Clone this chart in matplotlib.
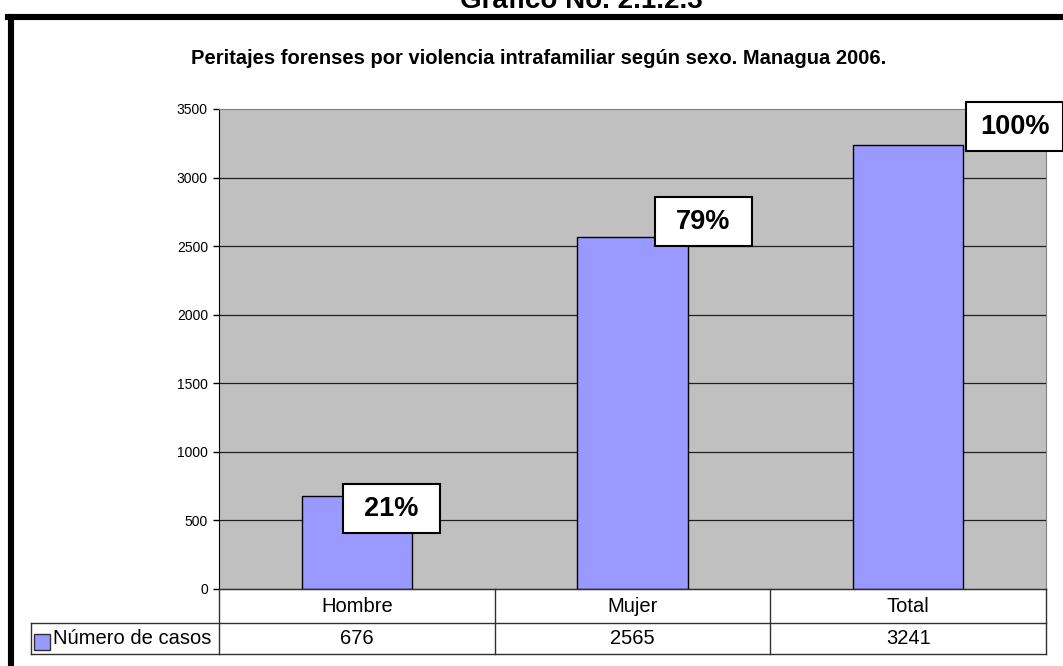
import matplotlib
matplotlib.use('Agg')
import matplotlib.pyplot as plt
import matplotlib.transforms as mtransforms
from matplotlib.patches import Rectangle
from matplotlib.lines import Line2D

plt.rcParams['font.family'] = ['Liberation Sans', 'DejaVu Sans']

# ── Data ───────────────────────────────────────────────────────────
categories = ['Hombre', 'Mujer', 'Total']
casos = [676, 2565, 3241]
pct_labels = ['21%', '79%', '100%']
series_name = 'Número de casos'
y_ticks = [0, 500, 1000, 1500, 2000, 2500, 3000, 3500]

# label box offsets (px) from bar top centre -> box lower-left corner
label_offsets = [(-14, -37), (22, -9), (58, -6)]

BAR_COLOR = '#9999FF'
PLOT_BG = '#C0C0C0'
W, H = 1063, 666

fig = plt.figure(figsize=(W / 100, H / 100), dpi=100)
fig.patch.set_facecolor('white')

# ── Main axes ──────────────────────────────────────────────────────
ax = fig.add_axes([219 / W, 1 - 589 / H, (1046 - 219) / W, (589 - 109) / H])
ax.set_facecolor(PLOT_BG)
x = list(range(len(categories)))
ax.bar(x, casos, width=0.4, color=BAR_COLOR, edgecolor='black', lw=1, zorder=3)
ax.set_xlim(-0.5, len(categories) - 0.5)
ax.set_ylim(0, 3500)
ax.set_yticks(y_ticks)
ax.set_yticklabels([str(t) for t in y_ticks], fontsize=10)
ax.tick_params(axis='y', length=4.5, width=1, pad=3.5, color='black')
ax.set_xticks([])
for t in y_ticks[1:-1]:
    ax.axhline(t, color='#202020', lw=0.9, zorder=1)
ax.axhline(3500, color='#808080', lw=1.2, zorder=1)
for s in ['top', 'right', 'bottom']:
    ax.spines[s].set_color('#808080')
ax.spines['left'].set_color('black')
ax.spines['bottom'].set_color('black')

# ── Percentage label boxes ─────────────────────────────────────────
for xi, v, lab, (dx, dy) in zip(x, casos, pct_labels, label_offsets):
    trans = mtransforms.IdentityTransform() + mtransforms.ScaledTranslation(xi, v, ax.transData)
    ax.add_patch(Rectangle((dx, dy), 97, 49, transform=trans, fc='white',
                           ec='black', lw=1.5, clip_on=False, zorder=6))
    ax.text(dx + 48.5, dy + 24, lab, transform=trans, ha='center', va='center',
            fontsize=19.5, fontweight='bold', zorder=7, clip_on=False)

# ── Data table below the axes ──────────────────────────────────────
tab = fig.add_axes([31 / W, 1 - 654 / H, (1046 - 31) / W, (654 - 589) / H])
tab.axis('off')
tab.set_xlim(0, 1)
tab.set_ylim(0, 1)
bt = mtransforms.blended_transform_factory(ax.transData, tab.transAxes)
row_split = (654 - 623) / 65
line_kw = dict(color='#303030', lw=1, clip_on=False)

n = len(categories)
tab.add_line(Line2D([-0.5, n - 0.5], [1, 1], transform=bt, **line_kw))
tab.add_line(Line2D([0, 1], [row_split, row_split], **line_kw))
tab.add_line(Line2D([0, 1], [0, 0], **line_kw))
tab.add_line(Line2D([0, 0], [0, row_split], **line_kw))
for b in [i - 0.5 for i in range(n + 1)]:
    tab.add_line(Line2D([b, b], [0, 1], transform=bt, **line_kw))

for xi, cat, v in zip(x, categories, casos):
    tab.text(xi, (1 + row_split) / 2, cat, transform=bt, ha='center', va='center', fontsize=14.5)
    tab.text(xi, row_split / 2, str(v), transform=bt, ha='center', va='center', fontsize=14.5)

tab.add_patch(Rectangle((3 / 1015, 4 / 65), 16 / 1015, 16 / 65, fc=BAR_COLOR,
                        ec='#303030', lw=1, clip_on=False))
tab.text(22 / 1015, row_split / 2, series_name, ha='left', va='center', fontsize=14.5)

# ── Titles ─────────────────────────────────────────────────────────
fig.text(581 / W, 1 - 8 / H, 'Gráfico No. 2.1.2.3', ha='center', va='baseline',
         fontsize=20, fontweight='bold')
fig.text(539 / W, 1 - 58 / H,
         'Peritajes forenses por violencia intrafamiliar según sexo. Managua 2006.',
         ha='center', va='center', fontsize=14.5, fontweight='bold')

# ── Thick frame (left + top) ───────────────────────────────────────
fig.add_artist(Line2D([11 / W, 11 / W], [-0.02, 1 - 17 / H], color='black', lw=4.4))
fig.add_artist(Line2D([8 / W, 1.02], [1 - 17 / H, 1 - 17 / H], color='black', lw=4.4))

fig.savefig('out.png', dpi=100)
plt.close()
